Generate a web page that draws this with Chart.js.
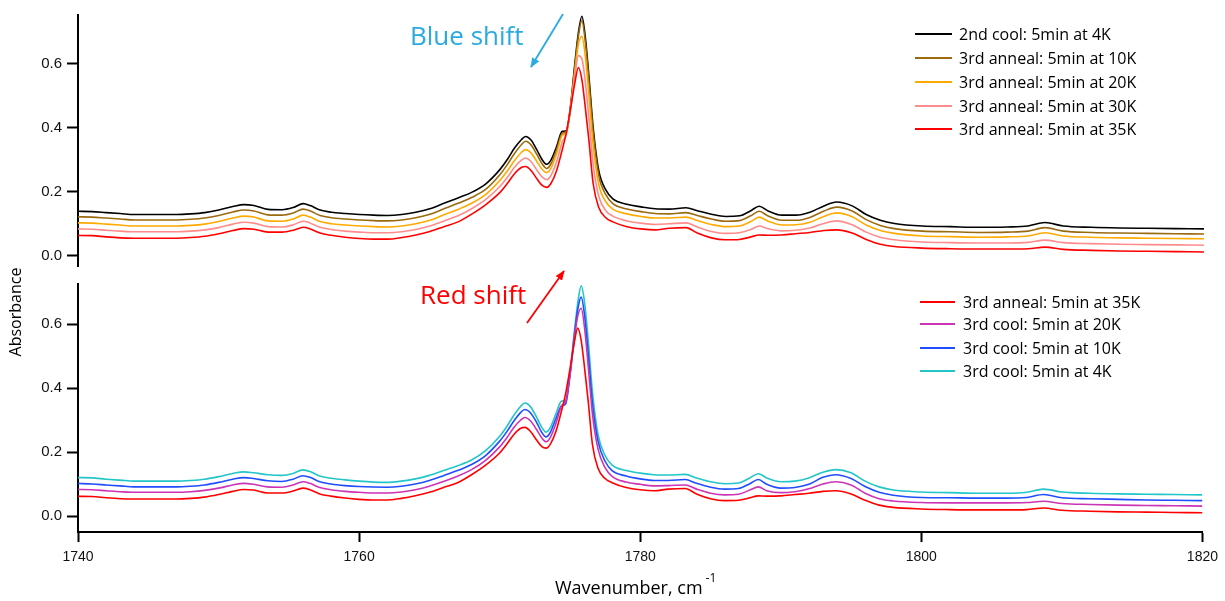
<!DOCTYPE html>
<html><head><meta charset="utf-8">
<script src="https://cdn.jsdelivr.net/npm/chart.js@4.4.1/dist/chart.umd.min.js"></script>
<style>
html,body{margin:0;padding:0;background:#fff;}
#wrap{position:relative;width:1225px;height:601px;overflow:hidden;font-family:'Open Sans',sans-serif;color:#000;}
canvas{position:absolute;left:0;}
.row{position:absolute;height:22px;display:flex;align-items:center;white-space:nowrap;font-size:16px;line-height:22px;}
.sw{display:inline-block;height:2px;margin-right:7px;}
.ann{position:absolute;font-size:26px;line-height:1;white-space:nowrap;}
</style></head><body>
<div id="wrap">
<canvas id="topc" width="1225" height="280" style="top:0px"></canvas>
<canvas id="botc" width="1225" height="331" style="top:270px"></canvas>
<svg id="arrows" width="1225" height="601" style="position:absolute;left:0;top:0;pointer-events:none">
 <defs>
  <marker id="ahB" markerWidth="10" markerHeight="8" refX="9" refY="4" orient="auto" markerUnits="userSpaceOnUse"><path d="M0,0 L10,4 L0,8 z" fill="#29aae1"/></marker>
  <marker id="ahR" markerWidth="10" markerHeight="8" refX="9" refY="4" orient="auto" markerUnits="userSpaceOnUse"><path d="M0,0 L10,4 L0,8 z" fill="#ff0000"/></marker>
 </defs>
 <line x1="563" y1="14" x2="531" y2="67" stroke="#29aae1" stroke-width="1.8" marker-end="url(#ahB)"/>
 <line x1="527" y1="323" x2="564" y2="271" stroke="#ff0000" stroke-width="1.8" marker-end="url(#ahR)"/>
</svg>
<div class="ann" style="left:410px;top:22px;color:#29aae1">Blue shift</div>
<div class="ann" style="left:420px;top:281px;color:#ff0000">Red shift</div>
<div id="legTop"></div>
<div id="legBot"></div>
<div style="position:absolute;left:2px;top:302px;width:26px;height:20px;">
 <div style="position:absolute;left:50%;top:50%;transform:translate(-50%,-50%) rotate(-90deg);font-size:16px;line-height:20px;white-space:nowrap;">Absorbance</div>
</div>
<div style="position:absolute;left:555px;top:578px;font-size:18px;line-height:18px;white-space:nowrap;">Wavenumber, cm<span style="position:relative;top:-12px;font-size:12px;margin-left:3px;">-1</span></div>
</div>
<script>
// ---- data ----
const wavenumbers = [
 1740,1741,1742,1743,1744,1745,1746,1747,1748,1749,1750,
 1751,1751.8,1752.5,1753.5,1754.5,1755.3,1756,1756.5,1757.2,1758,1759,
 1760,1761,1762,1763,1764,1765,1766,1767,1768,1769,1770,
 1770.5,1771,1771.5,1771.8,1772.2,1772.6,1773,1773.3,1773.6,1774,1774.4,
 1774.7,1775,1775.3,1775.55,1775.8,1776.05,1776.3,1776.6,1777,1777.5,1778,
 1779,1780,1781,1782,1783.2,1784,1785,1786,1787,1787.8,1788.4,
 1789,1790,1791,1792,1793,1793.9,1795,1796,1797,1798,1800,
 1802,1804,1806,1807.5,1808.7,1810,1812,1814,1816,1818,1820];

const cool2_4K = [
 .138,.137,.134,.131,.128,.128,.128,.128,.130,.134,.142,
 .153,.159,.156,.144,.143,.150,.162,.156,.142,.135,.131,
 .128,.126,.125,.128,.135,.146,.163,.180,.198,.225,.270,
 .300,.335,.362,.372,.360,.330,.298,.285,.298,.340,.388,
 .390,.470,.600,.695,.748,.680,.560,.400,.265,.205,.177,
 .160,.152,.146,.145,.149,.140,.129,.122,.124,.140,.154,
 .140,.126,.126,.135,.155,.167,.155,.128,.110,.100,.092,
 .090,.088,.089,.092,.103,.092,.088,.086,.085,.084,.083];
const anneal3_10K = [
 .121,.120,.117,.114,.111,.111,.111,.111,.113,.117,.125,
 .136,.142,.139,.127,.126,.133,.145,.139,.125,.118,.114,
 .111,.109,.108,.111,.118,.129,.146,.163,.182,.208,.254,
 .284,.318,.346,.357,.345,.316,.285,.272,.286,.330,.382,
 .388,.465,.590,.685,.735,.665,.545,.385,.250,.190,.162,
 .145,.137,.131,.130,.134,.125,.114,.107,.109,.124,.138,
 .124,.110,.110,.119,.139,.151,.139,.112,.094,.084,.076,
 .074,.072,.073,.076,.087,.076,.072,.070,.069,.068,.067];
const anneal3_20K = [
 .102,.101,.098,.095,.092,.092,.092,.092,.094,.098,.106,
 .117,.123,.120,.108,.107,.114,.126,.120,.106,.099,.095,
 .092,.090,.089,.092,.099,.110,.127,.144,.164,.192,.236,
 .264,.296,.322,.331,.320,.294,.268,.259,.272,.318,.375,
 .385,.460,.575,.660,.685,.620,.500,.345,.222,.168,.145,
 .130,.122,.117,.117,.120,.109,.097,.090,.092,.106,.120,
 .108,.095,.096,.104,.122,.133,.121,.095,.078,.069,.061,
 .059,.057,.058,.061,.071,.061,.057,.055,.054,.053,.052];
const anneal3_30K = [
 .083,.082,.079,.076,.074,.074,.074,.074,.076,.080,.087,
 .098,.104,.101,.090,.089,.096,.107,.101,.088,.081,.076,
 .073,.071,.071,.074,.081,.092,.108,.124,.147,.176,.217,
 .244,.275,.298,.305,.293,.267,.244,.237,.250,.293,.355,
 .380,.460,.560,.625,.615,.540,.430,.285,.185,.140,.123,
 .108,.101,.097,.099,.102,.089,.075,.069,.071,.081,.092,
 .084,.077,.079,.086,.100,.108,.096,.073,.057,.049,.042,
 .040,.039,.039,.041,.048,.040,.037,.035,.034,.033,.032];
const anneal3_35K = [
 .0625,.062,.058,.055,.054,.054,.054,.054,.056,.060,.068,
 .078,.084,.082,.073,.073,.079,.088,.083,.070,.063,.057,
 .053,.051,.051,.056,.064,.075,.090,.105,.130,.160,.198,
 .225,.255,.275,.278,.265,.240,.218,.213,.225,.265,.330,
 .385,.460,.540,.588,.550,.460,.360,.225,.150,.118,.105,
 .090,.083,.080,.085,.087,.070,.055,.049,.050,.058,.064,
 .063,.064,.068,.072,.078,.080,.070,.050,.035,.028,.023,
 .021,.020,.020,.021,.026,.019,.016,.014,.013,.012,.011];
const cool3_20K = [
 .084,.083,.080,.077,.075,.075,.075,.075,.077,.081,.088,
 .098,.103,.100,.092,.091,.098,.108,.103,.090,.083,.078,
 .075,.073,.073,.076,.083,.094,.109,.125,.146,.175,.217,
 .245,.277,.301,.309,.298,.273,.245,.233,.246,.290,.345,
 .360,.440,.550,.625,.650,.585,.470,.320,.210,.152,.125,
 .107,.100,.095,.096,.098,.085,.072,.067,.069,.082,.092,
 .080,.074,.077,.086,.101,.108,.098,.072,.055,.048,.043,
 .042,.042,.042,.043,.047,.040,.037,.035,.034,.033,.032];
const cool3_10K = [
 .1025,.101,.098,.095,.092,.092,.092,.092,.094,.098,.106,
 .116,.121,.118,.111,.109,.116,.127,.122,.108,.101,.096,
 .093,.0915,.091,.094,.101,.112,.127,.143,.162,.190,.235,
 .264,.297,.325,.334,.323,.296,.262,.248,.262,.305,.345,
 .352,.440,.560,.645,.685,.625,.510,.355,.235,.172,.143,
 .126,.117,.112,.112,.115,.103,.091,.085,.087,.102,.115,
 .100,.088,.090,.100,.122,.130,.118,.093,.075,.066,.059,
 .058,.057,.057,.059,.068,.058,.055,.053,.051,.050,.049];
const cool3_4K = [
 .121,.120,.116,.113,.110,.110,.110,.110,.112,.116,.124,
 .134,.139,.136,.130,.128,.134,.145,.140,.126,.119,.114,
 .110,.107,.106,.110,.117,.128,.143,.158,.176,.205,.250,
 .280,.315,.344,.354,.342,.312,.278,.263,.277,.320,.360,
 .362,.445,.570,.665,.720,.665,.550,.390,.255,.190,.160,
 .143,.135,.130,.129,.131,.120,.108,.102,.104,.120,.133,
 .120,.108,.110,.120,.138,.146,.136,.110,.092,.082,.076,
 .074,.072,.072,.075,.085,.076,.072,.070,.069,.068,.067];

const topLabels = ['2nd cool: 5min at 4K','3rd anneal: 5min at 10K','3rd anneal: 5min at 20K','3rd anneal: 5min at 30K','3rd anneal: 5min at 35K'];
const botLabels = ['3rd anneal: 5min at 35K','3rd cool: 5min at 20K','3rd cool: 5min at 10K','3rd cool: 5min at 4K'];
const topColors = ['#000000','#9b6a10','#ffaa00','#ff8c8c','#ff0000'];
const botColors = ['#ff0000','#cc33b5','#1f4dff','#22c5c8'];
const yTickValues = [0, 0.2, 0.4, 0.6];
const xTickValues = [1740, 1760, 1780, 1800, 1820];

const topSeries = [cool2_4K, anneal3_10K, anneal3_20K, anneal3_30K, anneal3_35K];
const botSeries = [anneal3_35K, cool3_20K, cool3_10K, cool3_4K];

function ds(label, color, arr){
  return {label, borderColor:color, backgroundColor:color, borderWidth:1.6, pointRadius:0,
    cubicInterpolationMode:'monotone', fill:false,
    data: wavenumbers.map((x,i)=>({x, y:arr[i]}))};
}

function makeChart(id, datasets, yMin, yMax, showX, padTop, padBottom){
  return new Chart(document.getElementById(id), {
    type:'line',
    data:{datasets},
    options:{
      responsive:false, animation:false, devicePixelRatio:1,
      layout:{padding:{left:0,right:21,top:padTop,bottom:padBottom}},
      plugins:{legend:{display:false},tooltip:{enabled:false}},
      scales:{
        x:{type:'linear', min:1740, max:1820, display:showX,
          afterBuildTicks:s=>{s.ticks = xTickValues.map(v=>({value:v}));},
          afterFit:s=>{ if (showX) s.height = 69; },
          border:{display:true,color:'#000',width:2},
          grid:{display:true,drawOnChartArea:false,drawTicks:true,tickLength:10,tickWidth:2,tickColor:'#000'},
          ticks:{padding:7,color:'#111',font:{family:'Liberation Sans',size:14},maxRotation:0,autoSkip:false,
                 callback:v=>String(v)}
        },
        y:{type:'linear', min:yMin, max:yMax,
          afterBuildTicks:s=>{s.ticks = yTickValues.map(v=>({value:v}));},
          afterFit:s=>{s.width = 78;},
          border:{display:true,color:'#000',width:2},
          grid:{display:true,drawOnChartArea:false,drawTicks:true,tickLength:11,tickWidth:2,tickColor:'#000'},
          ticks:{padding:5,color:'#111',font:{family:'Liberation Sans',size:15},callback:v=>Number(v).toFixed(1)}
        }
      }
    }
  });
}

makeChart('topc', topSeries.map((a,i)=>ds(topLabels[i],topColors[i],a)).reverse(), -0.033, 0.752, false, 15, 10);
makeChart('botc', botSeries.map((a,i)=>ds(botLabels[i],botColors[i],a)), -0.049, 0.726, true, 5, 0);

function legend(el, labels, colors, rowsY, lineX, lineW, textGap){
  const c = document.getElementById(el);
  labels.forEach((l,i)=>{
    const r = document.createElement('div');
    r.className='row';
    r.style.left = lineX+'px';
    r.style.top = (rowsY[i]-11)+'px';
    const s = document.createElement('span');
    s.className='sw'; s.style.width=lineW+'px'; s.style.background=colors[i]; s.style.marginRight=textGap+'px';
    r.appendChild(s);
    r.appendChild(document.createTextNode(l));
    c.appendChild(r);
  });
}
legend('legTop', topLabels, topColors, [34.3,58.3,81.7,106,129.3], 915, 37, 7);
legend('legBot', botLabels, botColors, [301.7,324.3,348.3,370.7], 920, 35, 8);
</script>
</body></html>
